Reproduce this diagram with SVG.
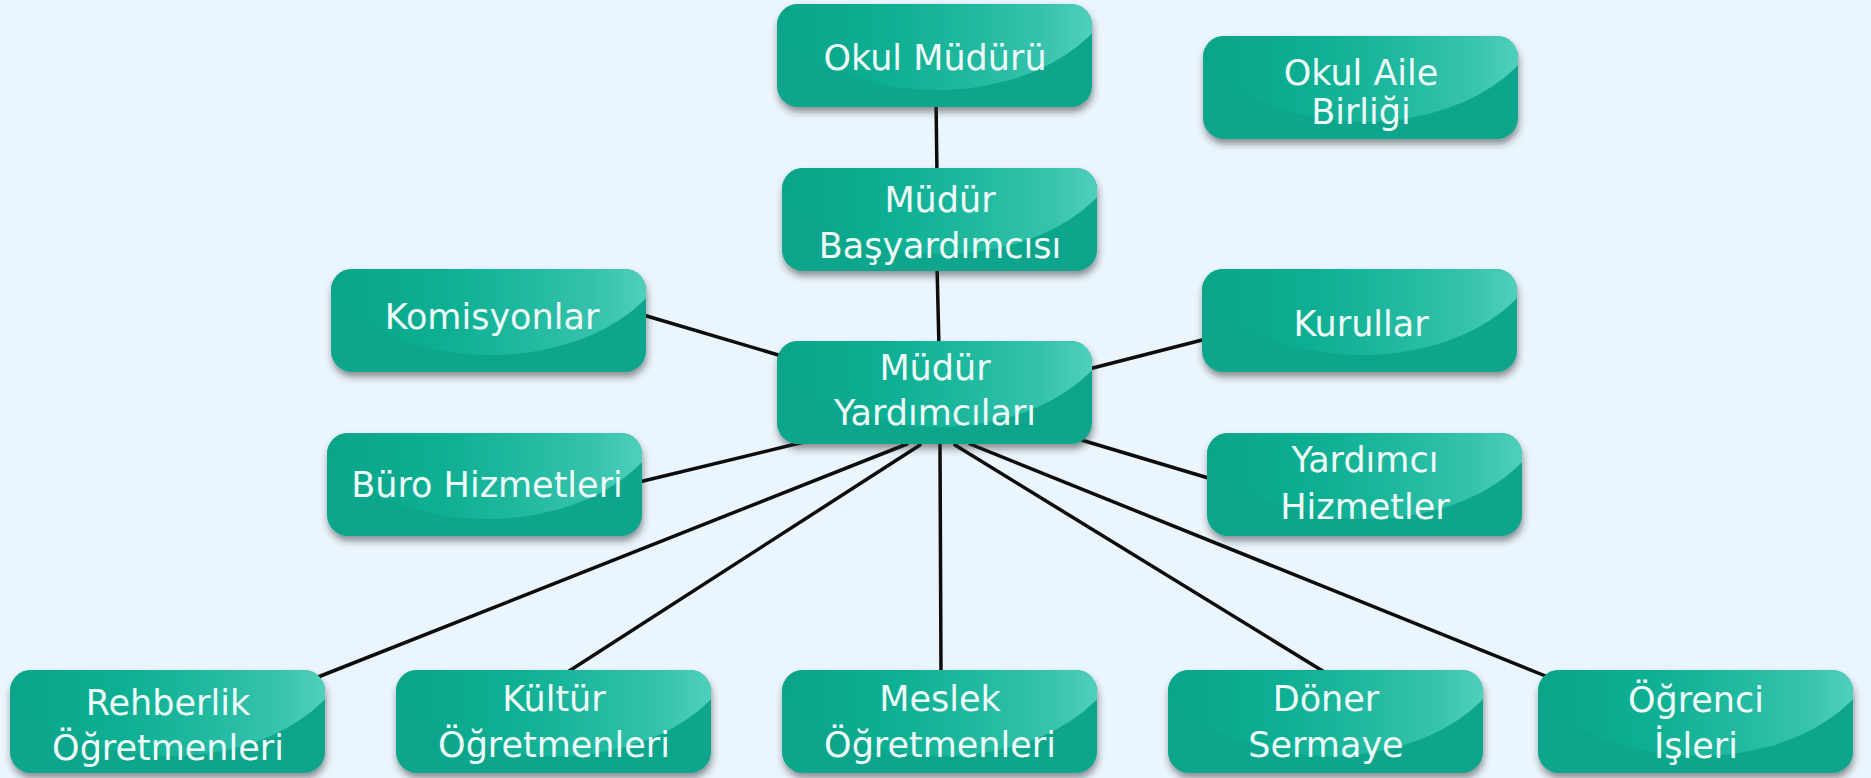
<svg xmlns="http://www.w3.org/2000/svg" xmlns:xlink="http://www.w3.org/1999/xlink" width="1871" height="778" viewBox="0 0 1871 778">
  <style>
    .lbl { font-family: "DejaVu Sans", "Liberation Sans", sans-serif; font-size: 35px; fill: #effbf9; text-anchor: middle; }
    .conn line { stroke: #0d0d0d; stroke-width: 3.5; stroke-linecap: round; }
  </style>
  <defs>
    <linearGradient id="glossGrad" gradientUnits="userSpaceOnUse" x1="0" y1="0" x2="315" y2="0">
      <stop offset="0" stop-color="#0aa489"/>
      <stop offset="0.35" stop-color="#0daf93"/>
      <stop offset="0.6" stop-color="#1fb89f"/>
      <stop offset="0.85" stop-color="#37c3ad"/>
      <stop offset="1" stop-color="#4fd0bd"/>
    </linearGradient>
    <clipPath id="cardClip">
      <rect x="0" y="0" width="315" height="103" rx="21" ry="21"/>
    </clipPath>
    <filter id="shadow" x="-10%" y="-20%" width="125%" height="150%">
      <feDropShadow dx="1" dy="5" stdDeviation="3.5" flood-color="#2a2a2a" flood-opacity="0.5"/>
    </filter>
    <g id="card">
      <rect x="0" y="0" width="315" height="103" rx="21" ry="21" fill="#0fa68c" filter="url(#shadow)"/>
      <g clip-path="url(#cardClip)">
        <ellipse cx="160" cy="-34" rx="182" ry="120" fill="url(#glossGrad)"/>
      </g>
    </g>
  </defs>

  <rect x="0" y="0" width="1871" height="778" fill="#ebf5fd"/>

  <g id="connectors" class="conn">
    <line x1="936" y1="100" x2="937" y2="175"/>
    <line x1="937" y1="265" x2="939" y2="348"/>
    <line x1="640" y1="314" x2="785" y2="357"/>
    <line x1="1085" y1="370" x2="1210" y2="338"/>
    <line x1="635" y1="483" x2="806" y2="441.5"/>
    <line x1="1078" y1="439" x2="1215" y2="480"/>
    <line x1="907" y1="444" x2="318" y2="677"/>
    <line x1="920" y1="445" x2="566" y2="673"/>
    <line x1="940" y1="445" x2="941" y2="675"/>
    <line x1="955" y1="445" x2="1326" y2="673"/>
    <line x1="970" y1="444" x2="1548" y2="677"/>
  </g>

  <g id="n-okul-muduru" transform="translate(777,4)">
    <use xlink:href="#card" href="#card"/>
    <text class="lbl" x="158" y="66">Okul Müdürü</text>
  </g>
  <g id="n-okul-aile-birligi" transform="translate(1203,36)">
    <use xlink:href="#card" href="#card"/>
    <text class="lbl" x="158" y="49">Okul Aile</text>
    <text class="lbl" x="158" y="88">Birliği</text>
  </g>
  <g id="n-mudur-basyardimcisi" transform="translate(782,168)">
    <use xlink:href="#card" href="#card"/>
    <text class="lbl" x="158" y="44">Müdür</text>
    <text class="lbl" x="158" y="90">Başyardımcısı</text>
  </g>
  <g id="n-komisyonlar" transform="translate(331,269)">
    <use xlink:href="#card" href="#card"/>
    <text class="lbl" x="161" y="60">Komisyonlar</text>
  </g>
  <g id="n-kurullar" transform="translate(1202,269)">
    <use xlink:href="#card" href="#card"/>
    <text class="lbl" x="159" y="67">Kurullar</text>
  </g>
  <g id="n-mudur-yardimcilari" transform="translate(777,341)">
    <use xlink:href="#card" href="#card"/>
    <text class="lbl" x="158" y="39">Müdür</text>
    <text class="lbl" x="158" y="84">Yardımcıları</text>
  </g>
  <g id="n-buro-hizmetleri" transform="translate(327,433)">
    <use xlink:href="#card" href="#card"/>
    <text class="lbl" x="160" y="64">Büro Hizmetleri</text>
  </g>
  <g id="n-yardimci-hizmetler" transform="translate(1207,433)">
    <use xlink:href="#card" href="#card"/>
    <text class="lbl" x="158" y="39">Yardımcı</text>
    <text class="lbl" x="158" y="86">Hizmetler</text>
  </g>
  <g id="n-rehberlik" transform="translate(10,670)">
    <use xlink:href="#card" href="#card"/>
    <text class="lbl" x="158" y="45">Rehberlik</text>
    <text class="lbl" x="158" y="90">Öğretmenleri</text>
  </g>
  <g id="n-kultur" transform="translate(396,670)">
    <use xlink:href="#card" href="#card"/>
    <text class="lbl" x="158" y="41">Kültür</text>
    <text class="lbl" x="158" y="87">Öğretmenleri</text>
  </g>
  <g id="n-meslek" transform="translate(782,670)">
    <use xlink:href="#card" href="#card"/>
    <text class="lbl" x="158" y="41">Meslek</text>
    <text class="lbl" x="158" y="87">Öğretmenleri</text>
  </g>
  <g id="n-doner-sermaye" transform="translate(1168,670)">
    <use xlink:href="#card" href="#card"/>
    <text class="lbl" x="158" y="41">Döner</text>
    <text class="lbl" x="158" y="87">Sermaye</text>
  </g>
  <g id="n-ogrenci-isleri" transform="translate(1538,670)">
    <use xlink:href="#card" href="#card"/>
    <text class="lbl" x="158" y="42">Öğrenci</text>
    <text class="lbl" x="158" y="88">İşleri</text>
  </g>
</svg>
